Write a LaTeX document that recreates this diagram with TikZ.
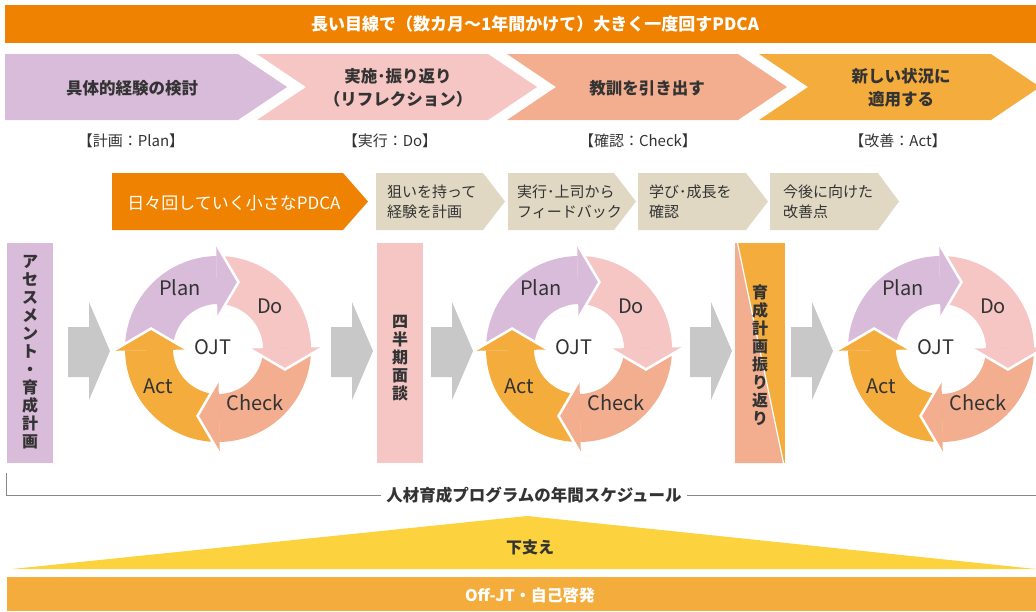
\documentclass[tikz,border=0pt]{standalone}
\usepackage{fontspec}
\setmainfont{Noto Sans CJK JP}
\definecolor{topc}{HTML}{EF8200}
\definecolor{planc}{HTML}{D9BBDA}
\definecolor{doc}{HTML}{F6C6C4}
\definecolor{checkc}{HTML}{F2AE8E}
\definecolor{actc}{HTML}{F4AD3C}
\definecolor{beigec}{HTML}{E0D8C3}
\definecolor{greyc}{HTML}{C8C8C8}
\definecolor{yelc}{HTML}{FDD23F}
\definecolor{txtc}{HTML}{333333}
\definecolor{linec}{HTML}{888888}
\tikzset{
  chtext/.style={text=txtc, inner sep=0pt, align=center, font=\fontsize{16.5}{23}\selectfont\bfseries},
  brtext/.style={text=txtc, inner sep=0pt, font=\fontsize{15}{18}\selectfont},
  bgtext/.style={text=txtc, inner sep=0pt, align=left, anchor=west, font=\fontsize{15}{20}\selectfont},
  vtext/.style={text=txtc, inner sep=0pt, align=center, font=\fontsize{16}{18}\selectfont\bfseries},
  lbl/.style={text=txtc, inner sep=0pt, font=\fontsize{20}{24}\selectfont},
  wtext/.style={text=white, inner sep=0pt, font=\fontsize{16.5}{20}\selectfont\bfseries},
}
\newcommand\pdcahead[2]{%
  \fill[#1] (#2:31) -- ({#2+18}:70) -- (#2:105) -- cycle;
  \draw[white,line width=2.5pt,line join=miter] (#2:105) -- ({#2+18}:70) -- (#2:31);}
\newcommand\pdcabody[3]{%
  \fill[#1] plot[domain=#2:#3,samples=40] (\x:93) -- plot[domain=#3:#2,samples=40] (\x:45) -- cycle;}
\newcommand\pdcacycle[3]{%
  \begin{scope}[shift={(#1,#2)}]
    \pdcabody{planc}{-181}{-91}
    \pdcabody{doc}{-91}{-1}
    \pdcabody{checkc}{-1}{89}
    \pdcabody{actc}{89}{179}
    \pdcahead{planc}{-91}
    \pdcahead{doc}{-1}
    \pdcahead{checkc}{89}
    \pdcahead{actc}{179}
    \node[lbl] (plan#3) at (-38,-61) {Plan};
    \node[lbl] (do#3) at (52,-43) {Do};
    \node[lbl] (check#3) at (37,54) {Check};
    \node[lbl] (act#3) at (-60,37) {Act};
    \node[lbl] (ojt#3) at (-5,-2) {OJT};
  \end{scope}}
\newcommand\greyarrow[1]{%
  \fill[greyc] (#1,327) -- ({#1+21},327) -- ({#1+21},302) -- ({#1+42},351) -- ({#1+21},400) -- ({#1+21},377) -- (#1,377) -- cycle;}
\begin{document}
\begin{tikzpicture}[x=1pt,y=-1pt]
\useasboundingbox (0,0) rectangle (1036,611);
\clip (0,0) rectangle (1036,611);

% top bar
\fill[topc] (5,5) rectangle (1036,43);
\node[wtext, font=\fontsize{17}{20}\selectfont\bfseries] (title) at (535,24) {長い目線で（数カ月〜1年間かけて）大きく一度回すPDCA};

% big chevrons
\fill[planc] (5,54) -- (238,54) -- (287,87) -- (238,120) -- (5,120) -- cycle;
\fill[doc] (257,54) -- (488,54) -- (537,87) -- (488,120) -- (257,120) -- (306,87) -- cycle;
\fill[checkc] (507,54) -- (738,54) -- (787,87) -- (738,120) -- (507,120) -- (556,87) -- cycle;
\fill[actc] (759,54) -- (991,54) -- (1040,87) -- (991,120) -- (759,120) -- (808,87) -- cycle;
\node[chtext] (c1) at (132,88) {具体的経験の検討};
\node[chtext] (c2) at (398,88) {実施･振り返り\\（リフレクション）};
\node[chtext] (c3) at (647,88) {教訓を引き出す};
\node[chtext] (c4) at (901,88) {新しい状況に\\適用する};
\node[brtext] (b1) at (131,141) {【計画：Plan】};
\node[brtext] (b2) at (390,141) {【実行：Do】};
\node[brtext] (b3) at (638,141) {【確認：Check】};
\node[brtext] (b4) at (898,141) {【改善：Act】};

% small PDCA row
\fill[topc] (112,173) -- (343,173) -- (368,201.5) -- (343,230) -- (112,230) -- cycle;
\node[wtext, font=\fontsize{17}{20}\selectfont] (small) at (234,203) {日々回していく小さなPDCA};
\fill[beigec] (376,173) -- (483,173) -- (505,201.5) -- (483,230) -- (376,230) -- cycle;
\fill[beigec] (508,173) -- (614,173) -- (636,201.5) -- (614,230) -- (508,230) -- cycle;
\fill[beigec] (638,173) -- (746,173) -- (768,201.5) -- (746,230) -- (638,230) -- cycle;
\fill[beigec] (770,173) -- (878,173) -- (899,201.5) -- (878,230) -- (770,230) -- cycle;
\node[bgtext] (s1) at (387,202) {狙いを持って\\経験を計画};
\node[bgtext] (s2) at (517,202) {実行･上司から\\フィードバック};
\node[bgtext] (s3) at (649,202) {学び･成長を\\確認};
\node[bgtext] (s4) at (783,202) {今後に向けた\\改善点};

% vertical boxes
\fill[planc] (7,243) rectangle (53,463);
\node[vtext] (v1) at (30,352) {ア\\セ\\ス\\メ\\ン\\ト\\・\\育\\成\\計\\画};
\fill[doc] (377,243) rectangle (423,463);
\node[vtext] (v2) at (400,358) {四\\半\\期\\面\\談};
\fill[actc] (735,243) rectangle (785,463);
\fill[checkc] (735,243) -- (737.5,243) -- (783.5,463) -- (735,463) -- cycle;
\draw[white,line width=1.2pt] (737.5,243) -- (783.5,463);
\node[vtext] (v3) at (760,355) {育\\成\\計\\画\\振\\り\\返\\り};

% grey arrows
\greyarrow{68}
\greyarrow{331}
\greyarrow{431}
\greyarrow{690}
\greyarrow{791}

% cycles
\pdcacycle{218}{349}{a}
\pdcacycle{579}{349}{b}
\pdcacycle{941}{349}{c}

% schedule line
\draw[linec,line width=1pt] (6,473) -- (6,495) -- (1036,495);
\node[fill=white, inner xsep=5pt, inner ysep=2pt, text=txtc, font=\fontsize{16.5}{20}\selectfont\bfseries] (sched) at (534,495) {人材育成プログラムの年間スケジュール};

% support triangle
\fill[yelc] (12,569) -- (527,516) -- (1036,569) -- cycle;
\node[text=txtc, inner sep=0pt, font=\fontsize{16}{20}\selectfont\bfseries] (support) at (530,547) {下支え};

% bottom bar
\fill[actc] (7,577) rectangle (1036,611);
\node[wtext, font=\fontsize{16}{20}\selectfont\bfseries] (offjt) at (530,595) {Off-JT・自己啓発};
\end{tikzpicture}
\end{document}
